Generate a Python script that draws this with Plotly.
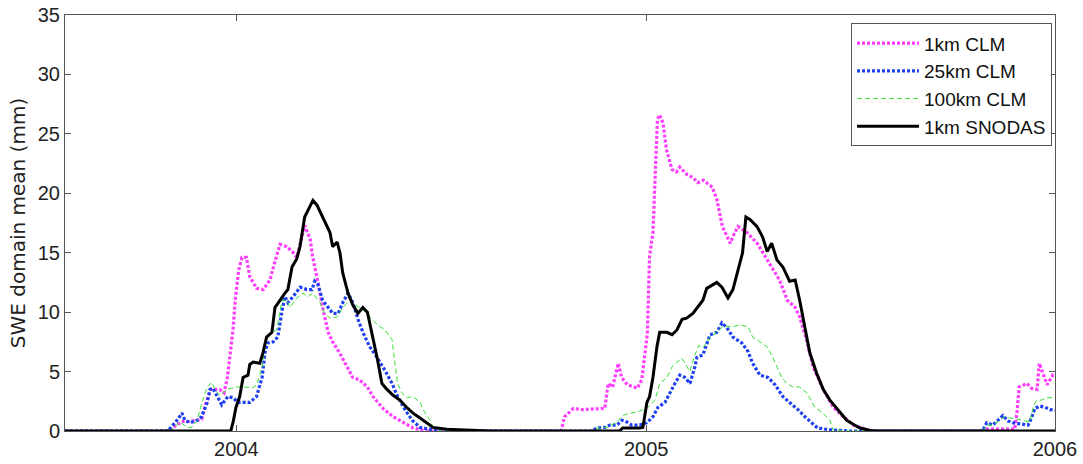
import pandas as pd
import plotly.graph_objects as go

START = "2003-08-01"

# 1km CLM (day offset from START, SWE mm)
m_days = [0, 93, 96, 100, 104, 110, 118, 122, 126, 130, 138, 142, 145, 147, 150, 152, 155, 158, 162, 165,
          171, 177, 183, 187, 192, 198, 203, 207, 212, 214, 219, 221, 226, 230, 235, 239, 245, 252, 257, 263,
          270, 275, 284, 293, 302, 311, 320, 325,
          443, 446, 454, 462, 482, 485, 489, 494, 497, 502, 511, 515, 520, 522, 525, 527, 529, 531, 534, 537,
          542, 546, 549, 555, 561, 565, 570, 578, 582, 587, 594, 598, 601, 609, 618, 629, 638, 645, 652, 656,
          662, 668, 677, 686, 695, 704, 719,
          820, 822, 848, 850, 852, 859, 863, 868, 870, 873, 877, 882, 884]
m_vals = [0, 0, 0.3, 0.5, 0.8, 0.8, 0.9, 1.0, 2.4, 3.5, 3.5, 3.2, 4.5, 6.2, 8.5, 11.0, 13.5, 14.6, 14.6, 13.0,
          12.0, 11.9, 12.7, 14.1, 15.7, 15.5, 15.1, 14.6, 16.7, 17.3, 16.1, 14.7, 12.5, 10.4, 8.3, 7.5, 6.6, 5.4, 4.5, 4.3,
          3.7, 2.9, 1.9, 1.2, 0.7, 0.25, 0.05, 0,
          0, 1.2, 1.9, 1.8, 1.9, 4.0, 3.7, 5.7, 4.5, 3.9, 3.6, 4.3, 8.2, 14.7, 16.7, 20.9, 26.2, 26.6, 25.9, 23.7,
          22.0, 21.8, 22.2, 21.6, 21.3, 20.9, 21.1, 20.5, 19.5, 17.2, 15.8, 16.7, 17.2, 16.7, 15.8, 14.1, 12.7, 11.0, 10.4, 9.6,
          7.7, 5.4, 3.5, 2.0, 1.2, 0.5, 0,
          0, 0.15, 0.15, 1.5, 3.7, 4.0, 3.6, 3.5, 5.7, 4.9, 3.9, 4.7, 4.6]

# 25km CLM
b_days = [0, 92, 94, 100, 104.5, 107, 112, 118, 122, 127, 129.5, 132, 136, 140, 143, 145.5, 150, 154.5, 159, 165,
          171, 176, 178.6, 181, 186, 190, 194, 196.4, 199, 203.6, 210, 216, 220.5, 223, 226, 230, 235, 239, 244, 248,
          252.7, 257, 261.6, 266, 272, 278.6, 285.7, 292, 297, 303.6, 310, 317, 328.6, 340,
          470, 475, 482, 486.6, 493, 497.3, 502, 506, 513, 519.6, 525, 529.5, 535.7, 540, 544.6, 549, 553.6, 558,
          562.5, 564.3, 569.6, 576, 582, 586.6, 591, 596.4, 604.5, 609.8, 614, 620.5, 627.7, 634, 641, 647, 654.5,
          660.7, 667, 672, 683, 700,
          815, 819.6, 823, 828.6, 833, 837.5, 842, 846, 852.7, 860, 863, 866, 870.5, 875, 879.5, 884]
b_vals = [0, 0, 0.25, 0.9, 1.5, 0.9, 0.7, 0.9, 1.2, 2.4, 3.5, 3.6, 2.9, 2.2, 2.6, 2.9, 2.8, 2.4, 2.4, 2.4,
          2.9, 4.5, 6.6, 7.4, 7.5, 7.9, 10.2, 11.3, 10.8, 11.3, 12.1, 11.9, 11.9, 12.6, 12.3, 11.0, 10.4, 9.9, 9.9, 10.8,
          11.6, 10.8, 9.4, 8.3, 7.1, 6.2, 5.1, 4.0, 2.9, 1.8, 0.9, 0.3, 0.1, 0,
          0, 0.25, 0.3, 0.5, 0.5, 0.9, 0.75, 0.5, 0.5, 0.7, 1.2, 2.0, 2.4, 3.2, 4.0, 4.7, 4.5, 4.0,
          5.4, 6.2, 6.4, 8.1, 8.3, 9.1, 8.7, 7.9, 7.4, 6.7, 5.7, 4.7, 4.5, 3.9, 2.9, 2.4, 1.8,
          1.2, 0.7, 0.25, 0.1, 0,
          0, 0.05, 0.7, 0.5, 0.9, 1.3, 0.85, 0.7, 0.6, 0.5, 1.1, 1.9, 2.1, 2.0, 1.8, 1.75]

# 100km CLM
g_days = [0, 93, 94, 103, 109, 113, 118, 123, 127, 131, 134, 138, 144.6, 153.6, 160.7, 167, 171.4, 176, 180, 184.8,
          189, 193.75, 198, 201, 207, 212.5, 217, 221, 227.7, 232, 236.6, 243, 248, 254.5, 259, 263, 270, 274, 279.5,
          285.7, 292, 294.6, 297, 301, 305, 310.7, 317, 321, 326, 328.6, 334.8, 340,
          470, 475, 484, 493, 498, 504.5, 510.7, 519.6, 526.8, 531, 537.5, 542, 546.4, 551, 555, 558, 562, 566,
          569.6, 576, 582, 587.5, 596.4, 602.7, 609.8, 614, 620.5, 626.8, 632, 640, 644.6, 650, 656, 662.5, 669.6,
          676.8, 683, 685.7, 695,
          815, 819.6, 823, 828.6, 835, 839, 843.75, 850, 855, 861.6, 865, 868, 872, 876.8, 884]
g_vals = [0, 0, 0.05, 0.75, 0.3, 0.3, 0.9, 2.6, 3.7, 4.1, 3.5, 3.0, 3.5, 3.7, 3.7, 3.6, 3.9, 5.4, 7.9, 8.3,
          8.5, 11.0, 11.0, 10.4, 11.2, 11.6, 11.3, 11.6, 10.8, 9.9, 9.5, 9.6, 10.4, 11.0, 10.6, 10.4, 9.9, 9.4, 8.9,
          8.5, 7.7, 5.7, 4.0, 3.2, 2.8, 2.9, 2.4, 1.6, 0.9, 0.3, 0.05, 0,
          0, 0.25, 0.3, 0.75, 1.3, 1.5, 1.6, 1.9, 2.6, 4.0, 4.5, 5.4, 5.8, 6.1, 5.4, 5.0, 6.3, 7.2,
          7.0, 7.9, 8.3, 8.8, 8.8, 8.9, 8.8, 7.9, 7.5, 7.1, 6.2, 4.5, 4.0, 3.7, 3.7, 3.2, 2.0,
          1.5, 0.9, 0.1, 0,
          0, 0.05, 0.5, 0.5, 0.9, 1.2, 1.1, 1.0, 0.9, 0.75, 2.2, 2.6, 2.6, 2.8, 2.8]

# 1km SNODAS
k_days = [0, 148, 150, 152.7, 156, 158, 159, 163.4, 165, 168, 174, 176.8, 178.6, 180, 184.8, 187.5, 189, 193.75,
          196.4, 199, 202.7, 207, 209.8, 214, 218.75, 221.4, 225, 230, 236.6, 239, 243, 245.5, 248, 252.7, 257,
          261.6, 266, 270, 274, 278.6, 283, 287.5, 293, 299, 305, 310.7, 317, 323, 328.6, 341, 353, 370, 380,
          495, 498, 513, 516, 519.6, 522, 525, 528.6, 531, 537.5, 542, 546.4, 551, 555, 560.7, 565, 569.6, 573,
          582, 586.6, 592, 596.4, 601, 605, 608, 611.6, 618, 623, 627, 631, 635.7, 641, 647, 652, 656, 660.7,
          665, 671, 677, 683, 690, 698, 705, 710, 719, 725, 884]
k_vals = [0, 0, 0.7, 2.0, 2.9, 4.0, 4.5, 4.7, 5.6, 5.8, 5.7, 6.6, 7.4, 7.9, 8.3, 10.4, 10.6, 11.3,
          11.6, 11.9, 13.8, 14.5, 15.5, 18.0, 18.9, 19.4, 19.0, 18.0, 16.7, 15.5, 15.9, 15.0, 13.3, 11.6, 10.6,
          9.9, 10.4, 10.0, 8.3, 6.2, 4.0, 3.5, 3.0, 2.6, 2.0, 1.5, 1.1, 0.7, 0.3, 0.15, 0.1, 0.03, 0,
          0, 0.25, 0.25, 0.3, 2.4, 2.9, 4.5, 7.1, 8.3, 8.3, 8.1, 8.5, 9.4, 9.5, 9.9, 10.4, 11.0, 12.0,
          12.5, 12.1, 11.2, 11.9, 13.6, 15.0, 18.0, 17.8, 17.2, 16.3, 15.1, 15.8, 14.4, 13.8, 12.6, 12.7, 11.0, 8.8,
          6.6, 4.9, 3.5, 2.6, 1.8, 0.9, 0.5, 0.25, 0.05, 0, 0]

tick_vals = ["2004-01-01", "2005-01-01", "2006-01-01"]
tick_text = ["2004", "2005", "2006"]


def to_dates(days):
    return pd.Timestamp(START) + pd.to_timedelta(days, unit="D")


fig = go.Figure()
fig.add_trace(go.Scatter(x=to_dates(m_days), y=m_vals, mode="lines", name="1km CLM",
                         line=dict(color="#FF3DFF", width=3.2, dash="3px,2px")))
fig.add_trace(go.Scatter(x=to_dates(b_days), y=b_vals, mode="lines", name="25km CLM",
                         line=dict(color="#1E40F0", width=3.2, dash="3px,2px")))
fig.add_trace(go.Scatter(x=to_dates(g_days), y=g_vals, mode="lines", name="100km CLM",
                         line=dict(color="#33E033", width=1, dash="5px,3px")))
fig.add_trace(go.Scatter(x=to_dates(k_days), y=k_vals, mode="lines", name="1km SNODAS",
                         line=dict(color="#000000", width=3)))

axis_common = dict(showline=True, linecolor="#555555", linewidth=1, mirror="ticks",
                   ticks="inside", ticklen=6, tickcolor="#555555", showgrid=False, zeroline=False,
                   automargin=False, ticklabeloverflow="allow",
                   tickfont=dict(family="Liberation Sans", size=20, color="#222222"))

fig.update_layout(
    width=1083, height=464,
    margin=dict(l=65, r=28, t=15, b=33, autoexpand=False),
    paper_bgcolor="white", plot_bgcolor="white",
    xaxis=dict(range=[START, "2006-01-01"], tickvals=tick_vals, ticktext=tick_text, **axis_common),
    yaxis=dict(range=[0, 35], dtick=5, tick0=0,
               title=dict(text="SWE domain mean (mm)", standoff=6,
                          font=dict(family="DejaVu Sans", size=20, color="#222222")),
               **axis_common),
    legend=dict(x=0.997, y=0.98, xanchor="right", yanchor="top",
                bordercolor="#555555", borderwidth=1, bgcolor="white",
                font=dict(family="Liberation Sans", size=19, color="#111111"),
                itemwidth=62, tracegroupgap=0),
    showlegend=True,
)

# remove the default page margin so the figure fills the window exactly
fig.write_html("out.html", config={"displayModeBar": False},
               post_script="document.body.style.margin='0';")
